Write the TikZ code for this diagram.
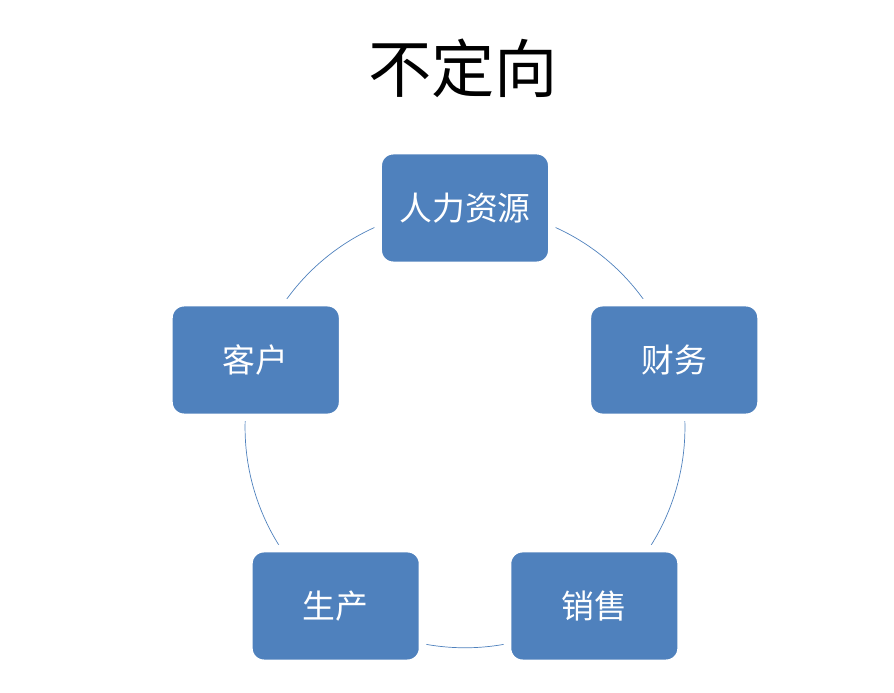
\documentclass[tikz,border=0pt]{standalone}
\usepackage{fontspec}
\newfontfamily\cjk{Noto Sans CJK SC}
\usetikzlibrary{positioning,calc}
\definecolor{office}{HTML}{4F81BD}
\tikzset{
  dept/.style={draw=white, line width=6.5pt, fill=office, rounded corners=0.45cm, minimum width=5.21cm, minimum height=3.44cm, inner sep=0pt, text=white, font=\cjk\fontsize{28}{32}\selectfont},
  ring/.style={office, line width=0.6pt, looseness=0.94},
  heading/.style={font=\cjk\fontsize{54}{60}\selectfont}
}
\begin{document}
\begin{tikzpicture}
  \useasboundingbox (0,0) rectangle (26.82,20.79);
  \coordinate (o) at (13.95,7.95);
  \node[heading] (title) at (13.89,18.75) {不定向};
  % positions on the ring
  \foreach \n/\ang in {hr/90,fin/18,sale/-54,prod/-126,cust/162}
    \path (o) ++(\ang:6.6) coordinate (p\n);
  % ring arcs, centre to centre
  \draw[ring] (phr) to[bend left=36] (pfin);
  \draw[ring] (pfin) to[bend left=36] (psale);
  \draw[ring] (psale) to[bend left=36] (pprod);
  \draw[ring] (pprod) to[bend left=36] (pcust);
  \draw[ring] (pcust) to[bend left=36] (phr);
  % boxes
  \node[dept] (hr) at (phr) {人力资源};
  \node[dept] (fin) at (pfin) {财务};
  \node[dept] (sale) at (psale) {销售};
  \node[dept] (prod) at (pprod) {生产};
  \node[dept] (cust) at (pcust) {客户};
\end{tikzpicture}
\end{document}
